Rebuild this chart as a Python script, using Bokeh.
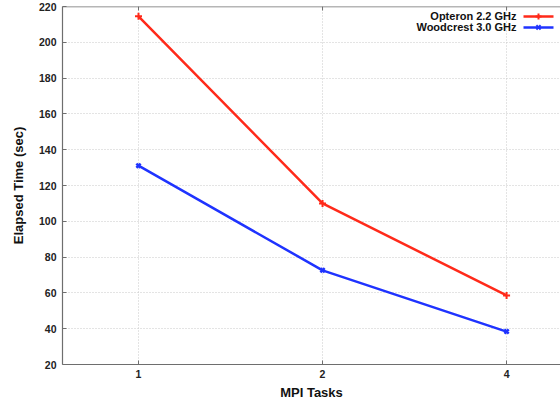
from bokeh.plotting import figure
from bokeh.models import (FixedTicker, Range1d, Label, Arrow, ColumnDataSource, Span)
from bokeh.embed import file_html
from bokeh.resources import INLINE

# ---- data ----
tasks = ["1", "2", "4"]
opteron = [214.5, 110.0, 58.6]
woodcrest = [131.1, 72.6, 38.4]
series_names = ["Opteron 2.2 GHz", "Woodcrest 3.0 GHz"]
y_ticks = [20, 40, 60, 80, 100, 120, 140, 160, 180, 200, 220]

pos = list(range(len(tasks)))

W, H = 560, 402
L, T, B = 62, 6, 36
X0, X1 = -0.413, 2.293
Y0, Y1 = 20, 220

FONT = "Liberation Sans"
AXC = "#6e6e6e"
RED = "#ff2a1a"
BLUE = "#1f33ff"

p = figure(width=W, height=H, output_backend="svg", toolbar_location=None,
           x_range=Range1d(X0, X1), y_range=Range1d(Y0, Y1),
           min_border_left=L, min_border_top=T, min_border_bottom=B,
           min_border_right=0, outline_line_color=None,
           x_axis_label="MPI Tasks", y_axis_label="Elapsed Time (sec)")
p.background_fill_color = "white"
p.border_fill_color = "white"

fw = W - L
fh = H - T - B
def sx(px):
    return X0 + (px - L) * (X1 - X0) / fw
def sy(py):
    return Y1 - (py - T) * (Y1 - Y0) / fh

# axes
xa = p.xaxis[0]
xa.ticker = FixedTicker(ticks=pos)
xa.major_label_overrides = {i: t for i, t in enumerate(tasks)}
ya = p.yaxis[0]
ya.ticker = FixedTicker(ticks=y_ticks)
for ax in (xa, ya):
    ax.axis_line_color = AXC
    ax.axis_line_width = 1.2
    ax.major_tick_line_color = AXC
    ax.major_tick_in = 4
    ax.major_tick_out = 0
    ax.minor_tick_line_color = None
    ax.major_label_text_font = FONT
    ax.major_label_text_font_style = "bold"
    ax.major_label_text_font_size = "10.5px"
    ax.major_label_text_color = "#222222"
    ax.axis_label_text_font = FONT
    ax.axis_label_text_font_style = "bold"
    ax.axis_label_text_font_size = "13px"
    ax.axis_label_text_color = "#111111"
xa.major_label_standoff = 5
xa.axis_label_standoff = 4
ya.major_label_standoff = 6
ya.axis_label_standoff = 10

# grid
for g in (p.xgrid[0], p.ygrid[0]):
    g.grid_line_color = "#c8c8c8"
    g.grid_line_dash = "1 2"
    g.grid_line_width = 1
p.xgrid[0].ticker = FixedTicker(ticks=pos)
p.ygrid[0].ticker = FixedTicker(ticks=y_ticks)

# top border with inward ticks
p.add_layout(Span(location=Y1, dimension="width", line_color=AXC, line_width=1.5))
p.segment(x0=pos, y0=[Y1] * len(pos), x1=pos, y1=[sy(T + 4)] * len(pos),
          line_color=AXC, line_width=1)

src = ColumnDataSource(dict(x=pos, o=opteron, w=woodcrest))
p.line("x", "o", source=src, line_color=RED, line_width=2.5)
p.scatter("x", "o", source=src, marker="cross", size=7, line_color=RED, line_width=2)
p.line("x", "w", source=src, line_color=BLUE, line_width=2.5)
p.scatter("x", "w", source=src, marker="x", size=6, line_color=BLUE, line_width=2.5)

# legend (label then sample, like the original)
markers = ["cross", "x"]
colors = [RED, BLUE]
for i, name in enumerate(series_names):
    py = 16 + i * 11
    p.add_layout(Label(x=sx(516), y=sy(py), text=name, text_align="right",
                       text_baseline="middle", text_font=FONT, text_font_style="bold",
                       text_font_size="11px", text_color="#111111"))
    p.add_layout(Arrow(x_start=sx(523), y_start=sy(py), x_end=sx(553), y_end=sy(py),
                       end=None, line_color=colors[i], line_width=2.5))
    p.scatter(x=[sx(538)], y=[sy(py)], marker=markers[i], size=6,
              line_color=colors[i], line_width=2)

open("out.html", "w").write(file_html(p, INLINE))
